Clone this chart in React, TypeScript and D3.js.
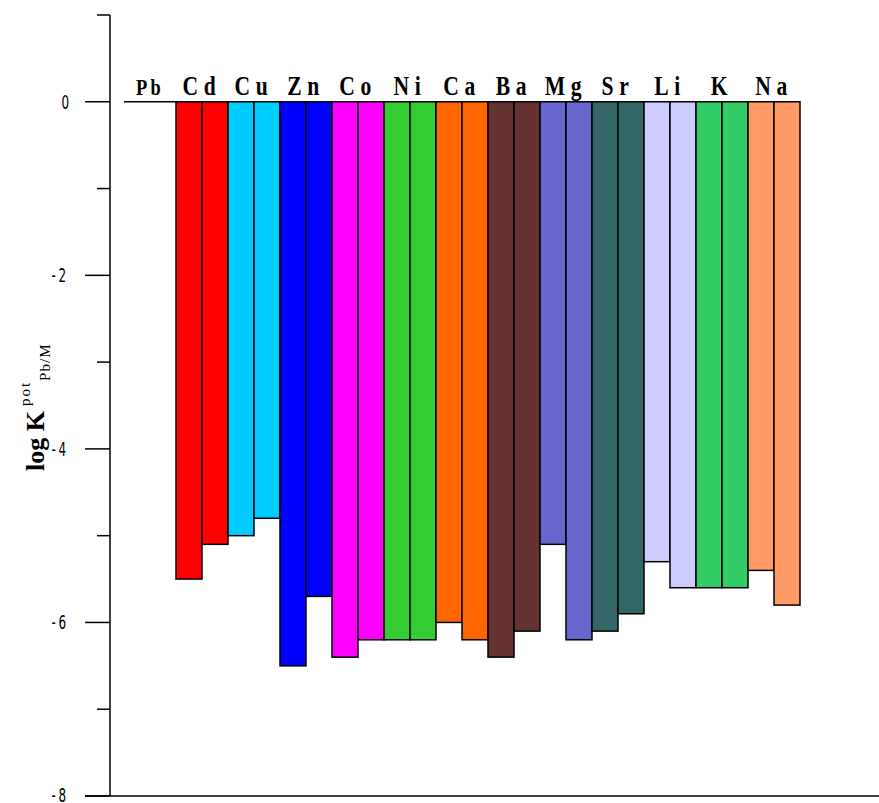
import React from "react";
import * as d3 from "d3";

const elements = ["Pb", "Cd", "Cu", "Zn", "Co", "Ni", "Ca", "Ba", "Mg", "Sr", "Li", "K", "Na"];
const colors = ["#000000", "#FF0000", "#00CCFF", "#0000FF", "#FF00FF", "#33CC33", "#FF6600", "#663333", "#6666CC", "#336666", "#CCCCFF", "#33CC66", "#FF9966"];
const valuesA = [0, -5.5, -5.0, -6.5, -6.4, -6.2, -6.0, -6.4, -5.1, -6.1, -5.3, -5.6, -5.4];
const valuesB = [0, -5.1, -4.8, -5.7, -6.2, -6.2, -6.2, -6.1, -6.2, -5.9, -5.6, -5.6, -5.8];
const majorTicks = [0, -2, -4, -6, -8];
const minorTicks = [1, -1, -3, -5, -7];

export default function App() {
  const W = 879, H = 803;
  const y = d3.scaleLinear().domain([-8, 1]).range([796, 15]);
  const bars = elements.flatMap((el, i) => [
    { key: el + "a", el, i, v: valuesA[i], c: colors[i] },
    { key: el + "b", el, i, v: valuesB[i], c: colors[i] },
  ]);
  const x = d3.scaleBand<string>().domain(bars.map(b => b.key)).range([124, 800]).padding(0);
  const axisX = 110;
  return (
    <svg width={W} height={H} style={{ position: "absolute", left: 0, top: 0, background: "#fff" }}>
      {bars.map(b => (
        b.v === 0 ? (
          <line key={b.key} x1={x(b.key)!} x2={x(b.key)! + x.bandwidth()} y1={y(0)} y2={y(0)} stroke="#000" strokeWidth={1.5} />
        ) : (
          <rect key={b.key} x={x(b.key)!} y={y(0)} width={x.bandwidth()} height={y(b.v) - y(0)} fill={b.c} stroke="#000" strokeWidth={1.5} />
        )
      ))}
      {elements.map((el, i) => (
        <text key={el} x={x(el + "b")!} y={95} textAnchor="middle"
          fontFamily="'Liberation Serif', serif" fontWeight="bold"
          fontSize={el === "Pb" ? 23 : 27} letterSpacing={el === "Pb" ? 4 : 7}
          transform={`translate(${x(el + "b")!} 0) scale(0.8 1) translate(${-x(el + "b")!} 0)`}>
          {el}
        </text>
      ))}
      <line x1={axisX} x2={axisX} y1={y(1)} y2={y(-8)} stroke="#000" strokeWidth={1.5} />
      <line x1={85} x2={879} y1={y(-8)} y2={y(-8)} stroke="#000" strokeWidth={1.5} />
      {majorTicks.map(t => (
        <g key={t}>
          <line x1={85} x2={axisX} y1={y(t)} y2={y(t)} stroke="#000" strokeWidth={1.5} />
          <text x={69} y={y(t) + (t === -8 ? 6 : 7)} textAnchor="end" fontFamily="'DejaVu Sans Condensed', 'Liberation Sans Narrow', 'DejaVu Sans', sans-serif" fontSize={19} letterSpacing={t === 0 ? 0 : 4}
            transform={`translate(69 0) scale(0.7 1) translate(-69 0)`}>
            {t === 0 ? "0" : "-" + Math.abs(t)}
          </text>
        </g>
      ))}
      {minorTicks.map(t => (
        <line key={t} x1={97} x2={axisX} y1={y(t)} y2={y(t)} stroke="#000" strokeWidth={1.5} />
      ))}
      <text transform="translate(44 471) rotate(-90)" fontFamily="'Liberation Serif', serif">
        <tspan fontWeight="bold" fontSize={26}>log K</tspan>
        <tspan fontSize={15} dy={-14} dx={5} letterSpacing={2}>pot</tspan>
        <tspan fontSize={15} dy={20} letterSpacing={1}>Pb/M</tspan>
      </text>
    </svg>
  );
}
